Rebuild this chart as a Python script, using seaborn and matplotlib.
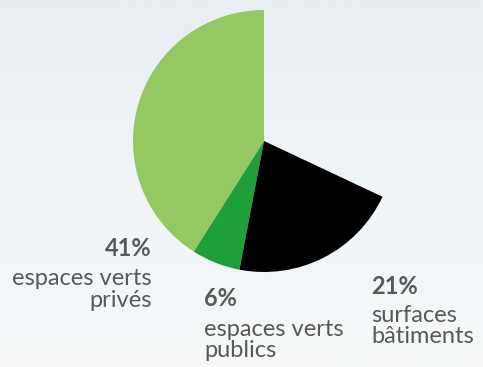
import numpy as np
import matplotlib
matplotlib.use("Agg")
import matplotlib.pyplot as plt
import seaborn as sns

# ==========================================
# DATA
# ==========================================
shares = [41, 6, 21, 32]          # last share is the empty part of the disc
pct_labels = ["41%", "6%", "21%"]
cat_labels = ["espaces verts\nprivés", "espaces verts\npublics", "surfaces\nbâtiments"]
colors = ["#95c762", "#1f9f3a", "#000000", "none"]

W, H = 483, 367

sns.set_theme(style="white")
plt.rcParams['font.family'] = ['Lato', 'DejaVu Sans']

fig = plt.figure(figsize=(W / 100, H / 100), dpi=100)

# background gradient (light blue-grey at top, lighter at bottom)
bg = fig.add_axes([0, 0, 1, 1])
grad = np.linspace(0, 1, 256).reshape(-1, 1)
bg.imshow(grad, aspect="auto", extent=[0, 1, 0, 1], origin="lower",
          cmap=matplotlib.colors.LinearSegmentedColormap.from_list("bg", ["#f7f9fa", "#e7eff3"]))
bg.set_axis_off()

ax = fig.add_axes([0, 0, 1, 1])
ax.set_axis_off()
ax.patch.set_alpha(0)

ax.pie(shares, colors=colors, startangle=90, counterclock=True,
       center=(264, H - 141), radius=131,
       wedgeprops=dict(linewidth=0))
ax.set_xlim(0, W)
ax.set_ylim(0, H)
ax.set_aspect("equal")

txt = "#595959"
fs = 17
ls = 1.02
# 41% - right aligned
ax.text(152, H - 249, pct_labels[0], ha="right", va="center", fontsize=fs, fontweight="bold", color=txt)
ax.text(152, H - 289.5, cat_labels[0], ha="right", va="center", fontsize=fs, color=txt, linespacing=ls, multialignment="right")
# 6%
ax.text(204, H - 299, pct_labels[1], ha="left", va="center", fontsize=fs, fontweight="bold", color=txt)
ax.text(204, H - 340, cat_labels[1], ha="left", va="center", fontsize=fs, color=txt, linespacing=ls)
# 21%
ax.text(371, H - 286, pct_labels[2], ha="left", va="center", fontsize=fs, fontweight="bold", color=txt)
ax.text(371, H - 326, cat_labels[2], ha="left", va="center", fontsize=fs, color=txt, linespacing=ls)

fig.savefig("out.png", dpi=100)
